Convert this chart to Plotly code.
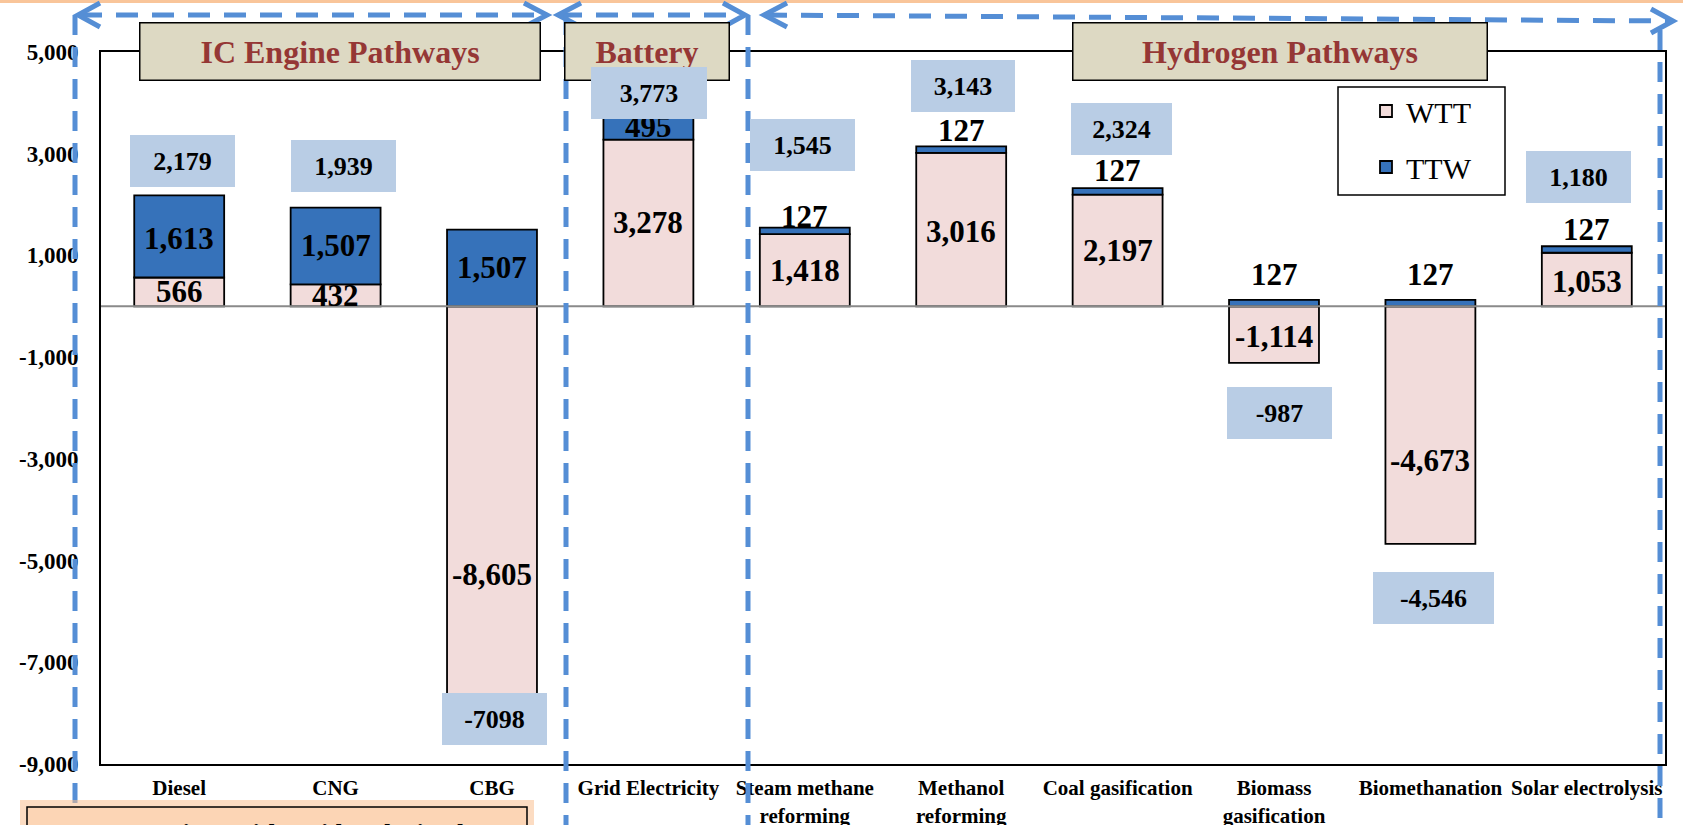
import plotly.graph_objects as go

# ---------------- data ----------------
categories = [
    "Diesel", "CNG", "CBG", "Grid Electricity",
    "Steam methane<br>reforming", "Methanol<br>reforming", "Coal gasification",
    "Biomass<br>gasification", "Biomethanation", "Solar electrolysis",
]
wtt = [566, 432, -8605, 3278, 1418, 3016, 2197, -1114, -4673, 1053]
ttw = [1613, 1507, 1507, 495, 127, 127, 127, 127, 127, 127]
y_tick_vals = [5000, 3000, 1000, -1000, -3000, -5000, -7000, -9000]
y_tick_text = ["5,000", "3,000", "1,000", "-1,000", "-3,000", "-5,000", "-7,000", "-9,000"]
section_titles = ["IC Engine Pathways", "Battery", "Hydrogen Pathways"]
comparison_title = "Comparison with Grid and Diesel"
no_comma_totals = {"CBG"}

net = [w + t for w, t in zip(wtt, ttw)]
xpos = list(range(len(categories)))

# ---------------- page geometry (pixels) ----------------
W, H = 1683, 825
L, R, T, B = 101, 18, 52, 61
PW = W - L - R
PH = H - T - B


def px(x):
    return (x - L) / PW


def py(y):
    return (H - B - y) / PH


SERIF = "Liberation Serif, Times New Roman, serif"
WTT_FILL = "#F2DCDB"
TTW_FILL = "#3672BA"
NET_BOX = "#B9CDE5"
HEADER_FILL = "#DDD9C3"
HEADER_TEXT = "#953735"
DASH_BLUE = "#558ED5"

fig = go.Figure()
fig.add_trace(go.Bar(
    x=xpos, y=wtt, name="WTT", legendgroup="WTT", width=0.575,
    marker=dict(color=WTT_FILL, line=dict(color="black", width=1.8)),
))
fig.add_trace(go.Bar(
    x=xpos, y=ttw, name="TTW", legendgroup="TTW", width=0.575,
    marker=dict(color=TTW_FILL, line=dict(color="black", width=1.8)),
))

annotations = []
val_font = dict(family=SERIF, size=31, color="black", weight="bold")

# section header boxes
header_boxes = [(139, 540), (564, 729), (1072, 1487)]
for title, (x0, x1) in zip(section_titles, header_boxes):
    annotations.append(dict(
        x=px((x0 + x1) / 2), y=py(51), xref="paper", yref="paper",
        xanchor="center", yanchor="middle",
        text=title, showarrow=False,
        font=dict(family=SERIF, size=32, color=HEADER_TEXT, weight="bold"),
        bgcolor=HEADER_FILL, bordercolor="black", borderwidth=1.5, borderpad=0,
        width=x1 - x0 - 2, height=56,
    ))

# WTT segment labels (centre of the segment)
wtt_shift = [0, 0, -49, 0, 0, -2, 0, -2, -35, -2]
for i, w in enumerate(wtt):
    annotations.append(dict(x=i, y=w / 2, xref="x", yref="y", text=f"{w:,}",
                            showarrow=False, font=val_font, yshift=wtt_shift[i]))

# TTW labels: inside when the segment is tall, otherwise just above it
ttw_shift = [-2, 0, 0, 0, 11, 16, 18, 25, 25, 17]
for i, (w, t) in enumerate(zip(wtt, ttw)):
    base = w if w > 0 else 0
    y = base + t / 2 if t >= 300 else base + t
    annotations.append(dict(x=i, y=y, xref="x", yref="y", text=f"{t:,}",
                            showarrow=False, font=val_font, yshift=ttw_shift[i]))

# net (WTT + TTW) boxes
net_xshift = [3, 8, 2, 1, -2, 2, 4, 5, 3, -8]
net_yshift = [34.5, 42, -52, 21, 83, 60, 59, -57, -61, 69]
net_width = [105, 105, 105, 116, 105, 104, 101, 105, 121, 105]
for i, v in enumerate(net):
    label = f"{v}" if categories[i] in no_comma_totals else f"{v:,}"
    annotations.append(dict(
        x=i, y=v, xref="x", yref="y", text=label, showarrow=False,
        xanchor="center", yanchor="middle",
        font=dict(family=SERIF, size=26, color="black", weight="bold"),
        bgcolor=NET_BOX, borderpad=0, borderwidth=0,
        width=net_width[i], height=52,
        xshift=net_xshift[i], yshift=net_yshift[i],
    ))

# comparison note at the foot of the page
annotations.append(dict(
    x=px(277), y=py(833), xref="paper", yref="paper", text=comparison_title,
    xanchor="center", yanchor="middle",
    showarrow=False, font=dict(family=SERIF, size=26, color="black", weight="bold"),
))

shapes = []
# orange rule across the top of the page
shapes.append(dict(type="line", xref="paper", yref="paper",
                   x0=px(0), x1=px(W), y0=py(1.5), y1=py(1.5),
                   line=dict(color="#F9C59A", width=3), layer="above"))

# zero line
shapes.append(dict(type="line", xref="paper", yref="y", x0=0, x1=1, y0=0, y1=0,
                   line=dict(color="#8A8A8A", width=2), layer="above"))

dash_line = dict(color=DASH_BLUE, width=5, dash="22px,14px")
solid_blue = dict(color=DASH_BLUE, width=5)


def hline(x0, y0, x1, y1):
    shapes.append(dict(type="line", xref="paper", yref="paper",
                       x0=px(x0), y0=py(y0), x1=px(x1), y1=py(y1),
                       line=dash_line, layer="above"))


def vline(x, y0, y1):
    shapes.append(dict(type="line", xref="paper", yref="paper",
                       x0=px(x), y0=py(y0), x1=px(x), y1=py(y1),
                       line=dict(color=DASH_BLUE, width=5, dash="20px,12px"),
                       layer="above"))


def chevron(pts):
    path = "M " + " L ".join(f"{px(a)},{py(b)}" for a, b in pts)
    shapes.append(dict(type="path", xref="paper", yref="paper", path=path,
                       line=solid_blue, layer="above"))


# section span arrows
hline(80, 15, 545, 15)
chevron([(100, 3), (78, 15), (100, 27)])
chevron([(524, 3), (547, 15), (524, 27)])
hline(560, 15, 743, 15)
chevron([(581, 3), (558, 15), (581, 27)])
chevron([(723, 3), (745, 15), (723, 27)])
hline(765, 15, 1670, 21)
chevron([(787, 3), (764, 15), (787, 27)])
chevron([(1651, 9), (1673, 21), (1651, 33)])

# section dividers
vline(75, 15, 830)
vline(566, 15, 830)
vline(748, 15, 830)
vline(1660, 30, 830)

# legend frame
shapes.append(dict(type="rect", xref="paper", yref="paper",
                   x0=px(1338), x1=px(1505), y0=py(87), y1=py(195),
                   line=dict(color="black", width=1.5), fillcolor="white",
                   layer="above"))

# comparison note box with soft glow
shapes.append(dict(type="rect", xref="paper", yref="paper",
                   x0=px(20), x1=px(534), y0=py(800), y1=py(840),
                   line=dict(width=0), fillcolor="rgba(250,192,144,0.55)",
                   layer="above"))
shapes.append(dict(type="rect", xref="paper", yref="paper",
                   x0=px(27), x1=px(527), y0=py(807), y1=py(845),
                   line=dict(color="black", width=1.5), fillcolor="#FCD5B5",
                   layer="above"))

fig.update_layout(
    width=W, height=H,
    margin=dict(l=L, r=R, t=T, b=B, pad=0, autoexpand=False),
    paper_bgcolor="white", plot_bgcolor="white",
    barmode="relative",
    showlegend=True,
    legend=dict(
        x=px(1366), y=py(85), xanchor="left", yanchor="top",
        font=dict(family=SERIF, size=30, color="black"),
        bgcolor="rgba(0,0,0,0)", borderwidth=0,
        traceorder="grouped", tracegroupgap=14,
    ),
    xaxis=dict(
        range=[-0.5, len(categories) - 0.5], tickmode="array",
        tickvals=xpos, ticktext=categories, automargin=False,
        tickfont=dict(family=SERIF, size=21, color="black", weight="bold"),
        showline=True, linecolor="black", linewidth=2, mirror=True,
        showgrid=False, zeroline=False, ticks="", ticklabelstandoff=4,
    ),
    yaxis=dict(
        range=[-9000, 5000], tickmode="array", automargin=False,
        tickvals=y_tick_vals, ticktext=y_tick_text,
        tickfont=dict(family=SERIF, size=23, color="black", weight="bold"),
        showline=True, linecolor="black", linewidth=2, mirror=True,
        showgrid=False, zeroline=False, ticks="", ticklabelstandoff=16,
    ),
    annotations=annotations,
    shapes=shapes,
)

fig.write_html("out.html")
